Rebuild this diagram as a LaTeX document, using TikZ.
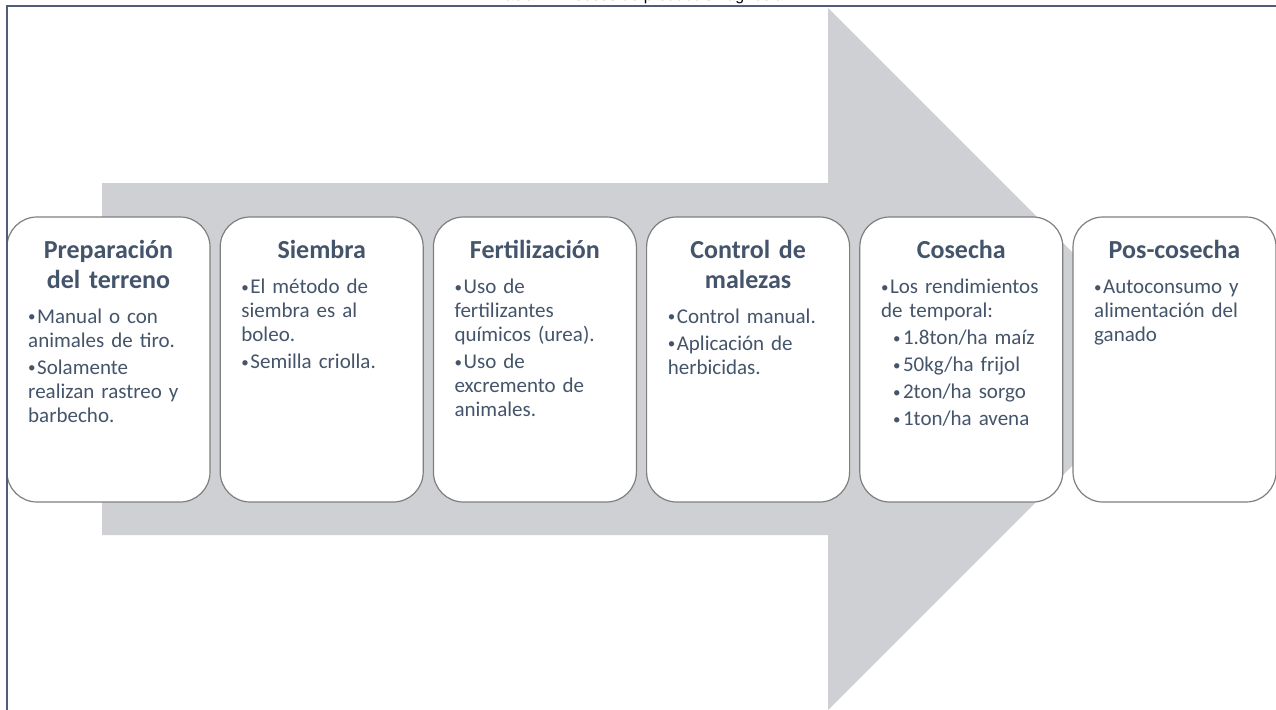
\documentclass[tikz,border=0pt]{standalone}
\usepackage{fontspec}
\setmainfont{Carlito}
\newfontfamily\captionfont{Liberation Sans}

\definecolor{slate}{HTML}{44546A}
\definecolor{arrowgray}{HTML}{CFD0D4}
\definecolor{boxline}{HTML}{7F7F7F}
\definecolor{framecol}{HTML}{4F5D7A}

\newcommand{\stagedot}{\raisebox{1.5pt}{\fontsize{15}{15}\selectfont\textbullet}}
\newcommand{\stageitem}[1]{\par\hangindent=9pt\hangafter=1\noindent\strut\makebox[9pt][l]{\stagedot}#1}
\newcommand{\stagesub}[1]{\par\hangindent=22pt\hangafter=1\noindent\strut\hspace*{12pt}\makebox[10pt][l]{\stagedot}#1}

\begin{document}
\begin{tikzpicture}[x=1pt, y=-1pt,
   stagebox/.style={draw=boxline, line width=1.2pt, fill=white, rounded corners=30pt,
      minimum width=203pt, minimum height=285pt, inner sep=0pt},
   stagetitle/.style={text=slate, font=\bfseries\fontsize{26}{30}\selectfont,
      text width=195pt, align=center, anchor=north, inner sep=0pt},
   stagebody/.style={text=slate, font=\fontsize{21}{24}\selectfont\setlength{\parskip}{3pt},
      text width=178pt, anchor=north west, inner sep=0pt}]
   \useasboundingbox (0,0) rectangle (1276,709);

   \node[font=\captionfont\fontsize{16}{19}\selectfont, anchor=base, inner sep=0pt] (caption) at (640,0.5) {Tabla 1. Proceso de producción agrícola};

   \fill[arrowgray] (102,183) -- (828,183) -- (828,8) -- (1179,359) -- (828,710) -- (828,535) -- (102,535) -- cycle;

   \node[stagebox] (prep) at (108.5,359.5) {};
   \node[stagetitle] (prepT) at (108.5,237) {\strut Preparación\\del terreno};
   \node[stagebody] (prepB) at (28,296.2) {\stageitem{Manual o con\\animales de tiro.}\stageitem{Solamente\\realizan rastreo y\\barbecho.}};

   \node[stagebox] (siem) at (321.7,359.5) {};
   \node[stagetitle] (siemT) at (321.7,237) {\strut Siembra};
   \node[stagebody] (siemB) at (241.2,266.7) {\stageitem{El método de\\siembra es al\\boleo.}\stageitem{Semilla criolla.}};

   \node[stagebox] (fert) at (534.9,359.5) {};
   \node[stagetitle] (fertT) at (534.9,237) {\strut Fertilización};
   \node[stagebody] (fertB) at (454.4,266.7) {\stageitem{Uso de\\fertilizantes\\químicos (urea).}\stageitem{Uso de\\excremento de\\animales.}};

   \node[stagebox] (male) at (748.1,359.5) {};
   \node[stagetitle] (maleT) at (748.1,237) {\strut Control de\\malezas};
   \node[stagebody] (maleB) at (667.6,296.2) {\stageitem{Control manual.}\stageitem{Aplicación de\\herbicidas.}};

   \node[stagebox] (cose) at (961.3,359.5) {};
   \node[stagetitle] (coseT) at (961.3,237) {\strut Cosecha};
   \node[stagebody] (coseB) at (880.8,266.7) {\stageitem{Los rendimientos\\de temporal:}\stagesub{1.8ton/ha maíz}\stagesub{50kg/ha frijol}\stagesub{2ton/ha sorgo}\stagesub{1ton/ha avena}};

   \node[stagebox] (posc) at (1174.5,359.5) {};
   \node[stagetitle] (poscT) at (1174.5,237) {\strut Pos-cosecha};
   \node[stagebody] (poscB) at (1094,266.7) {\stageitem{Autoconsumo y\\alimentación del\\ganado}};

   \draw[framecol, line width=2pt] (7,712) -- (7,6) -- (1278,6);
\end{tikzpicture}
\end{document}
